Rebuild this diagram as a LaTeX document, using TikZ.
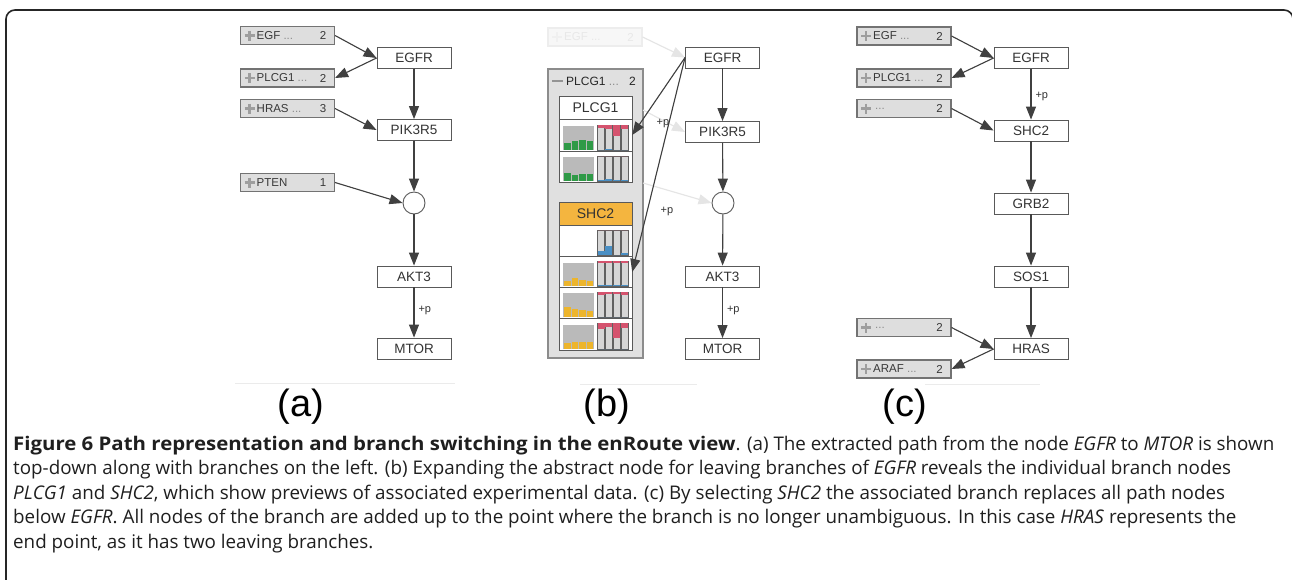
\documentclass[tikz,border=0pt]{standalone}
\usepackage{fontspec}
\usetikzlibrary{arrows.meta}
\newfontfamily\diafont{Liberation Sans}
\newfontfamily\capfont{Open Sans}
\newfontfamily\capbold{Open Sans Bold}[FakeStretch=1.085]

\definecolor{pinkc}{HTML}{D5536E}
\definecolor{bluec}{HTML}{4A8FC4}
\definecolor{greenc}{HTML}{2F9A47}
\definecolor{yellowc}{HTML}{EDB52C}
\definecolor{selc}{HTML}{F4B53F}

\tikzset{
  pathnode/.style={draw=black!65, fill=white, line width=0.9pt, minimum width=74pt,
    minimum height=21pt, inner sep=0pt, font=\diafont\fontsize{13.5}{13.5}\selectfont, text=black!80},
  junction/.style={circle, draw=black!65, fill=white, line width=0.9pt, minimum size=22pt, inner sep=0pt},
  flow/.style={-{Triangle[length=13pt,width=10pt]}, line width=1.1pt, draw=black!75, fill=black!90},
  fadedflow/.style={-{Triangle[length=13pt,width=10pt]}, line width=1.1pt, draw=black!10, fill=black!10},
  boxnormal/.style={draw=black!55, fill=black!13, line width=1.1pt, minimum width=94pt,
    minimum height=18pt, inner sep=0pt},
  boxfaded/.style={draw=black!7, fill=black!3, line width=1.1pt, minimum width=94pt,
    minimum height=18pt, inner sep=0pt},
  plusnormal/.style={draw=black!38, line width=2.8pt},
  plusfaded/.style={draw=black!6, line width=2.8pt},
  labnormal/.style={font=\diafont\fontsize{11.5}{11.5}\selectfont, text=black!78, inner sep=0pt},
  labfaded/.style={font=\diafont\fontsize{11.5}{11.5}\selectfont, text=black!9, inner sep=0pt},
  plabel/.style={font=\diafont\fontsize{11}{11}\selectfont, text=black!80, inner sep=0pt},
  panellabel/.style={font=\diafont\fontsize{38}{38}\selectfont, text=black, inner sep=0pt},
  baseline/.style={draw=black!8, line width=0.8pt},
  caption/.style={font=\capfont\fontsize{18.8}{18.8}\selectfont, text=black!88, inner sep=0pt, anchor=base west},
  card/.style={draw=black!65, fill=white, line width=1pt},
  chartbg/.style={fill=black!27},
  barcell/.style={draw=black!62, fill=black!16, line width=0.6pt}
}

% collapsed branch box: name, x, y, label, count, tone
\newcommand\branchbox[6]{%
  \node[box#6] (#1) at (#2,#3) {};
  \draw[plus#6] (#2-43,#3) -- (#2-33,#3) (#2-38,#3-5) -- (#2-38,#3+5);
  \node[lab#6, anchor=west] at (#2-31,#3) {#4};
  \node[lab#6, anchor=east] at (#2+39,#3) {#5};
}

% stacked bars on the right half of a data row: top, bottom, red heights, blue heights
\newcommand\rightbars[4]{%
  \foreach \hh [count=\ii] in {#3} {
    \draw[barcell] ({597.5+(\ii-1)*7.8},#1) rectangle ++(7,#2-#1);
    \fill[pinkc] ({597.5+(\ii-1)*7.8},#1) rectangle ++(7,\hh);
  }
  \foreach \hh [count=\ii] in {#4} {
    \fill[bluec] ({597.5+(\ii-1)*7.8},#2) rectangle ++(7,-\hh);
  }
}
% bar chart on the left half of a data row: top, bottom, colour, heights
\newcommand\leftchart[4]{%
  \fill[chartbg] (563,#1) rectangle (594,#2);
  \foreach \hh [count=\ii] in {#4} {
    \fill[#3] ({564+(\ii-1)*7.5},#2) rectangle ++(6.5,-\hh);
  }
}

\begin{document}
\begin{tikzpicture}[x=1pt,y=-1pt]
\useasboundingbox (0,0) rectangle (1292,579);
\fill[white] (0,0) rectangle (1292,579);

% outer frame
\draw[line width=1.6pt, black!85, rounded corners=9pt] (6,585) -- (6,10) -- (1293,10) -- (1293,585);

% ===================== panel (a) =====================
\branchbox{aegf}{287.5}{35.5}{EGF {\color{black!45}...}}{2}{normal}
\branchbox{aplcg}{287.5}{78}{PLCG1 {\color{black!45}...}}{2}{normal}
\branchbox{ahras}{287.5}{108.5}{HRAS {\color{black!45}...}}{3}{normal}
\branchbox{apten}{287.5}{182.5}{PTEN}{1}{normal}

\node[pathnode] (aegfr) at (414,58) {EGFR};
\node[pathnode] (apik) at (414,130) {PIK3R5};
\node[junction] (ajun) at (414,203) {};
\node[pathnode] (aakt) at (414,276.5) {AKT3};
\node[pathnode] (amtor) at (414,348.5) {MTOR};

\draw[flow] (aegf.east) -- (aegfr.west);
\draw[flow] (aegfr.west) -- (aplcg.east);
\draw[flow] (ahras.east) -- (apik.west);
\draw[flow] (apten.east) -- (ajun.west);
\draw[flow] (aegfr) -- (apik);
\draw[flow] (apik) -- (ajun);
\draw[flow] (ajun) -- (aakt);
\draw[flow] (aakt) -- node[plabel, right=4pt, pos=0.45] {+p} (amtor);

\draw[baseline] (235,383) -- (455,383);
\node[panellabel] (alab) at (301,407) {(a)};

% ===================== panel (b) =====================
\branchbox{begf}{595}{37}{EGF ...}{2}{faded}
\node[pathnode] (begfr) at (722.5,57.5) {EGFR};
\node[pathnode] (bpik) at (722.5,132) {PIK3R5};
\node[junction] (bjun) at (723,203) {};
\node[pathnode] (bakt) at (722.5,276.5) {AKT3};
\node[pathnode] (bmtor) at (722.5,349) {MTOR};

% expanded container of leaving branches
\node[draw=black!45, fill=black!12, line width=1.2pt, minimum width=95pt, minimum height=289pt,
  inner sep=0pt] (bcont) at (595.5,213.5) {};
\draw[black!42, line width=2.6pt] (552,81) -- (563,81);
\node[labnormal, anchor=west, text=black!85, font=\diafont\fontsize{12}{12}\selectfont] at (566,81) {PLCG1 {\color{black!45}...}};
\node[labnormal, anchor=east, text=black!85, font=\diafont\fontsize{12}{12}\selectfont] at (636,81) {2};

% branch card PLCG1
\draw[card] (559,96) rectangle (632,182);
\node[font=\diafont\fontsize{14}{14}\selectfont, text=black!80, inner sep=0pt] (bplcgt) at (595.5,107.5) {PLCG1};
\node[minimum width=73pt, minimum height=32pt, inner sep=0pt] (bp1) at (595.5,135) {};
\node[minimum width=73pt, minimum height=31pt, inner sep=0pt] (bp2) at (595.5,166.5) {};
\draw[black!65, line width=1pt] (559,119) -- (632,119) (559,151) -- (632,151);
\leftchart{126}{150}{greenc}{7,9,10,9}
\rightbars{125}{150}{3,4,11,4}{0,1,0,0}
\leftchart{157}{181}{greenc}{8,6,7,7}
\rightbars{156}{181}{0,0,0,0}{1.5,2,1,1.5}

% branch card SHC2 (selected)
\draw[card] (559,202) rectangle (632,350);
\fill[selc] (559.5,202.5) rectangle (631.5,225);
\draw[black!65, line width=1pt] (559,202) rectangle (632,350);
\node[font=\diafont\fontsize{14}{14}\selectfont, text=black!80, inner sep=0pt] (bshct) at (595.5,213.5) {SHC2};
\node[minimum width=73pt, minimum height=31pt, inner sep=0pt] (bs0) at (595.5,240.5) {};
\node[minimum width=73pt, minimum height=31pt, inner sep=0pt] (bs1) at (595.5,272) {};
\draw[black!65, line width=1pt] (559,225) -- (632,225) (559,256) -- (632,256)
  (559,287) -- (632,287) (559,318) -- (632,318);
\rightbars{230}{255}{0,0,0,0}{4,9,0,2}
\leftchart{263}{286}{yellowc}{5,8,6,5}
\rightbars{261}{286}{2,2,1.5,2}{1,1,1,1}
\leftchart{293}{317}{yellowc}{10,8,7,6}
\rightbars{292}{317}{3,2,1.5,3}{0,0,0,0}
\leftchart{325}{349}{yellowc}{6,7,7,7}
\rightbars{323}{349}{6,4,15,5}{0,0,0,0}

% faded edges of the hidden path
\coordinate (bout1) at (643,110);
\coordinate (bout2) at (643,183);
\draw[fadedflow] (begf.east) -- (begfr.west);
\draw[fadedflow] (bout1) -- (bpik.west);
\draw[fadedflow] (bout2) -- (bjun.west);

% edges into the branch cards
\draw[flow] (begfr.west) -- (bp1.east);
\draw[flow] (begfr.west) -- (bs1.east);
\node[plabel] at (663,123) {+p};
\node[plabel] at (667,211) {+p};

\draw[flow] (begfr) -- (bpik);
\draw[flow] (bpik) -- (bjun);
\draw[flow] (bjun) -- (bakt);
\draw[flow] (bakt) -- node[plabel, right=4pt, pos=0.45] {+p} (bmtor);

\draw[baseline] (580,384) -- (697,384);
\node[panellabel] (blab) at (607,407) {(b)};

% ===================== panel (c) =====================
\branchbox{cegf}{904}{36}{EGF {\color{black!45}...}}{2}{normal}
\branchbox{cplcg}{904}{78}{PLCG1 {\color{black!45}...}}{2}{normal}
\branchbox{cdots}{904}{108.5}{\,{\color{black!45}...}}{2}{normal}
\branchbox{cdotsb}{904}{327.5}{\,{\color{black!45}...}}{2}{normal}
\branchbox{caraf}{904}{369}{ARAF {\color{black!45}...}}{2}{normal}

\node[pathnode] (cegfr) at (1031,58) {EGFR};
\node[pathnode] (cshc) at (1031,130.5) {SHC2};
\node[pathnode] (cgrb) at (1031,203.5) {GRB2};
\node[pathnode] (csos) at (1031,276.5) {SOS1};
\node[pathnode] (chras) at (1031,349) {HRAS};

\draw[flow] (cegf.east) -- (cegfr.west);
\draw[flow] (cegfr.west) -- (cplcg.east);
\draw[flow] (cdots.east) -- (cshc.west);
\draw[flow] (cegfr) -- node[plabel, right=4pt, pos=0.55] {+p} (cshc);
\draw[flow] (cshc) -- (cgrb);
\draw[flow] (cgrb) -- (csos);
\draw[flow] (csos) -- (chras);
\draw[flow] (cdotsb.east) -- (chras.west);
\draw[flow] (chras.west) -- (caraf.east);

\draw[baseline] (925,384) -- (1040,384);
\node[panellabel] (clab) at (905,407) {(c)};

% ===================== caption =====================
\node[caption] (cap1) at (13,450) {{\capbold Figure 6 Path representation and branch switching in the enRoute view}. (a) The extracted path from the node \textit{EGFR} to \textit{MTOR} is shown};
\node[caption] (cap2) at (13,474.5) {top-down along with branches on the left. (b) Expanding the abstract node for leaving branches of \textit{EGFR} reveals the individual branch nodes};
\node[caption] (cap3) at (13,499) {\textit{PLCG1} and \textit{SHC2}, which show previews of associated experimental data. (c) By selecting \textit{SHC2} the associated branch replaces all path nodes};
\node[caption] (cap4) at (13,523.5) {below \textit{EGFR}. All nodes of the branch are added up to the point where the branch is no longer unambiguous. In this case \textit{HRAS} represents the};
\node[caption] (cap5) at (13,548) {end point, as it has two leaving branches.};
\end{tikzpicture}
\end{document}
